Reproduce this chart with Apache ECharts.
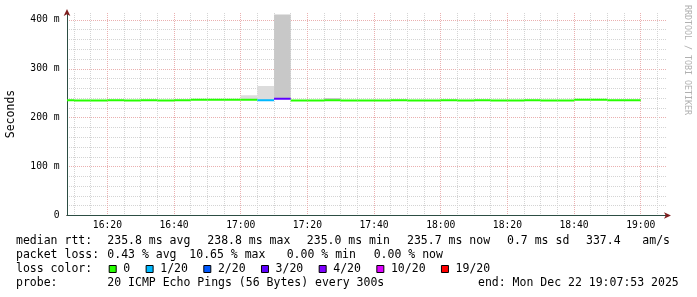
<!DOCTYPE html>
<html><head><meta charset="utf-8">
<script src="https://cdn.jsdelivr.net/npm/echarts@6/dist/echarts.min.js"></script>
<style>html,body{margin:0;padding:0;background:#fff}#c{width:697px;height:297px}</style>
</head><body><div id="c"></div>
<script>
// ---- data (5-minute buckets, start times) ----
const bucketStarts = ['16:05','16:10','16:15','16:20','16:25','16:30','16:35','16:40','16:45','16:50',
  '16:55','17:00','17:05','17:10','17:15','17:20','17:25','17:30','17:35','17:40',
  '17:45','17:50','17:55','18:00','18:05','18:10','18:15','18:20','18:25','18:30',
  '18:35','18:40','18:45','18:50','18:55'];
const medianMs = [235.4,235.3,235.3,235.4,235.2,235.4,235.3,235.4,236.6,236.5,
  236.6,236.4,235.6,238.8,235.3,235.1,235.5,235.3,235.0,235.2,
  235.4,235.3,235.2,235.4,235.3,235.5,235.2,235.3,235.4,235.3,
  235.2,236.5,236.6,235.6,235.7];
const lostPings = [0,0,0,0,0,0,0,0,0,0, 0,0,1,3,0,0,0,0,0,0, 0,0,0,0,0,0,0,0,0,0, 0,0,0,0,0];
const smokeLightTopMs = [null,null,null,null,null,null,null,null,null,null,
  null,246,265,null,null,null,null,null,null,null,
  null,null,null,null,null,null,null,null,null,null,
  null,null,null,null,null];
const smokeDarkTopMs = [null,null,null,null,null,null,null,null,null,null,
  null,null,null,411,null,null,240,null,null,null,
  null,null,null,null,null,null,null,null,null,null,
  null,null,null,null,null];
const xTickLabels = ['16:20','16:40','17:00','17:20','17:40','18:00','18:20','18:40','19:00'];
const yTickValues = [0,100,200,300,400];
const axisStart = '16:07:53';
const axisEnd = '19:07:53';
const lossLegendLabels = ['0','1/20','2/20','3/20','4/20','10/20','19/20'];
const lossLegendColors = ['#26ff00','#00b8ff','#0059ff','#5e00ff','#7e00ff','#dd00ff','#ff0000'];
const lossLegendMin = [0,1,2,3,4,10,19];
const rttStats = ['235.8','238.8','235.0','235.7','0.7','337.4'];
const lossStats = ['0.43','10.65','0.00','0.00'];
const probeText = '20 ICMP Echo Pings (56 Bytes) every 300s';
const endText = 'end: Mon Dec 22 19:07:53 2025';

// ---- helpers ----
function toMin(s){const p=s.split(':').map(Number);return (p[0]-16)*60+p[1]+(p[2]||0)/60;}
function fmt(m){const h=16+Math.floor(m/60);const mm=Math.round(m%60);return h+':'+(mm<10?'0':'')+mm;}
function lossIdx(n){let k=0;for(let i=0;i<lossLegendMin.length;i++){if(n>=lossLegendMin[i])k=i;}return k;}
const xMin=toMin(axisStart), xMax=toMin(axisEnd);
const majorX=xTickLabels.map(toMin);
const minorX=[];for(let m=Math.ceil(xMin/5)*5;m<=xMax;m+=5){if(majorX.indexOf(m)<0)minorX.push(m);}
const yMax=414;
const minorY=[];for(let v=20;v<=yMax;v+=20){if(yTickValues.indexOf(v)<0)minorY.push(v);}

const medianData=bucketStarts.map((s,i)=>[toMin(s),medianMs[i],lossIdx(lostPings[i])]);
const smokeData=[];
bucketStarts.forEach((s,i)=>{
  if(smokeLightTopMs[i]!=null) smokeData.push([toMin(s),medianMs[i],smokeLightTopMs[i],0]);
  if(smokeDarkTopMs[i]!=null) smokeData.push([toMin(s),medianMs[i],smokeDarkTopMs[i],1]);
});

const FONT='"DejaVu Sans Mono", monospace';
const chart=echarts.init(document.getElementById('c'),null,{renderer:'canvas'});

function txt(text,x,y,extra){return Object.assign({type:'text',silent:true,style:{text:text,x:x,y:y,fontFamily:FONT,fontSize:11.5,fill:'#000',verticalAlign:'middle',align:'left'}},extra||{});}
const graphics=[];
const L1=241.5,L2=255.5,L3=269.5,L4=283.5;
graphics.push(txt('median rtt:',16,L1));
graphics.push(txt(rttStats[0]+' ms avg',107.3,L1));
graphics.push(txt(rttStats[1]+' ms max',207.3,L1));
graphics.push(txt(rttStats[2]+' ms min',306.8,L1));
graphics.push(txt(rttStats[3]+' ms now',407,L1));
graphics.push(txt(rttStats[4]+' ms sd',507,L1));
graphics.push(txt(rttStats[5],586,L1));
graphics.push(txt('am/s',642.3,L1));
graphics.push(txt('packet loss:',16,L2));
graphics.push(txt(lossStats[0]+' % avg',107.3,L2));
graphics.push(txt(lossStats[1]+' % max',189.3,L2));
graphics.push(txt(lossStats[2]+' % min',286.7,L2));
graphics.push(txt(lossStats[3]+' % now',373.7,L2));
graphics.push(txt('loss color:',16,L3));
let lx=108.7;
lossLegendLabels.forEach((lab,i)=>{
  graphics.push({type:'rect',silent:true,shape:{x:lx+0.5,y:265.5,width:7,height:7},style:{fill:lossLegendColors[i],stroke:'#000',lineWidth:1}});
  graphics.push(txt(lab,lx+14.6,L3));
  lx=lx+14.6+lab.length*6.92+15.4;
});
graphics.push(txt('probe:',16,L4));
graphics.push(txt(probeText,107.3,L4));
graphics.push(txt(endText,478,L4));
graphics.push({type:'text',silent:true,x:10.7,y:114,rotation:Math.PI/2,style:{text:'Seconds',fontFamily:FONT,fontSize:11.5,fill:'#000',align:'center',verticalAlign:'middle'}});
graphics.push({type:'text',silent:true,x:687,y:60,rotation:-Math.PI/2,style:{text:'RRDTOOL / TOBI OETIKER',fontFamily:FONT,fontSize:8.3,fill:'#b0b0b0',align:'center',verticalAlign:'middle'}});

const option={
  animation:false,
  backgroundColor:'#fff',
  grid:{left:67,right:30,top:13,bottom:81.5,containLabel:false},
  xAxis:[
    {type:'value',min:xMin,max:xMax,position:'bottom',
      axisLine:{show:true,lineStyle:{color:'#7F1F1F',width:1},symbol:['none','arrow'],symbolSize:[5,7],symbolOffset:[0,4]},
      axisTick:{show:false,customValues:minorX},axisLabel:{show:false},
      splitLine:{show:true,lineStyle:{color:'#d4d4d4',type:[1,1],width:1}}},
    {type:'value',min:xMin,max:xMax,position:'bottom',
      axisLine:{show:true,lineStyle:{color:'#2C4D43',width:1}},
      axisTick:{show:false,customValues:majorX},
      axisLabel:{customValues:majorX,formatter:fmt,fontFamily:FONT,fontSize:9.7,color:'#000',margin:5},
      splitLine:{show:true,lineStyle:{color:'#eab0b0',type:[1,1],width:1}}}
  ],
  yAxis:[
    {type:'value',min:0,max:yMax,position:'left',
      axisLine:{show:true,lineStyle:{color:'#7F1F1F',width:1},symbol:['none','arrow'],symbolSize:[5,7],symbolOffset:[0,4]},
      axisTick:{show:false,customValues:minorY},axisLabel:{show:false},
      splitLine:{show:true,lineStyle:{color:'#d4d4d4',type:[1,1],width:1}}},
    {type:'value',min:0,max:yMax,position:'left',
      axisLine:{show:true,lineStyle:{color:'#2C4D43',width:1}},
      axisTick:{show:false,customValues:yTickValues},
      axisLabel:{customValues:yTickValues,formatter:v=>v===0?'0':v+' m',fontFamily:FONT,fontSize:9.7,color:'#000',margin:7.5},
      splitLine:{show:true,lineStyle:{color:'#eab0b0',type:[1,1],width:1}}}
  ],
  series:[
    {type:'custom',xAxisIndex:1,yAxisIndex:1,clip:true,data:smokeData,z:2,
      renderItem:function(params,api){
        const t0=Math.max(api.value(0),xMin),t1=api.value(0)+5;
        const a=api.coord([t0,api.value(1)]),b=api.coord([t1,api.value(2)]);
        return {type:'rect',shape:{x:a[0],y:b[1],width:b[0]-a[0],height:a[1]-b[1]},
          style:{fill:api.value(3)===1?'#c8c8c8':'#dcdcdc'}};
      }},
    {type:'custom',xAxisIndex:1,yAxisIndex:1,clip:true,data:medianData,z:3,
      renderItem:function(params,api){
        const t0=Math.max(api.value(0),xMin),t1=api.value(0)+5,v=api.value(1);
        const a=api.coord([t0,v]),b=api.coord([t1,v]);
        return {type:'line',shape:{x1:a[0],y1:a[1],x2:b[0],y2:b[1]},
          style:{stroke:lossLegendColors[api.value(2)],lineWidth:2}};
      }}
  ],
  graphic:graphics
};
chart.setOption(option);
</script>
</body></html>
